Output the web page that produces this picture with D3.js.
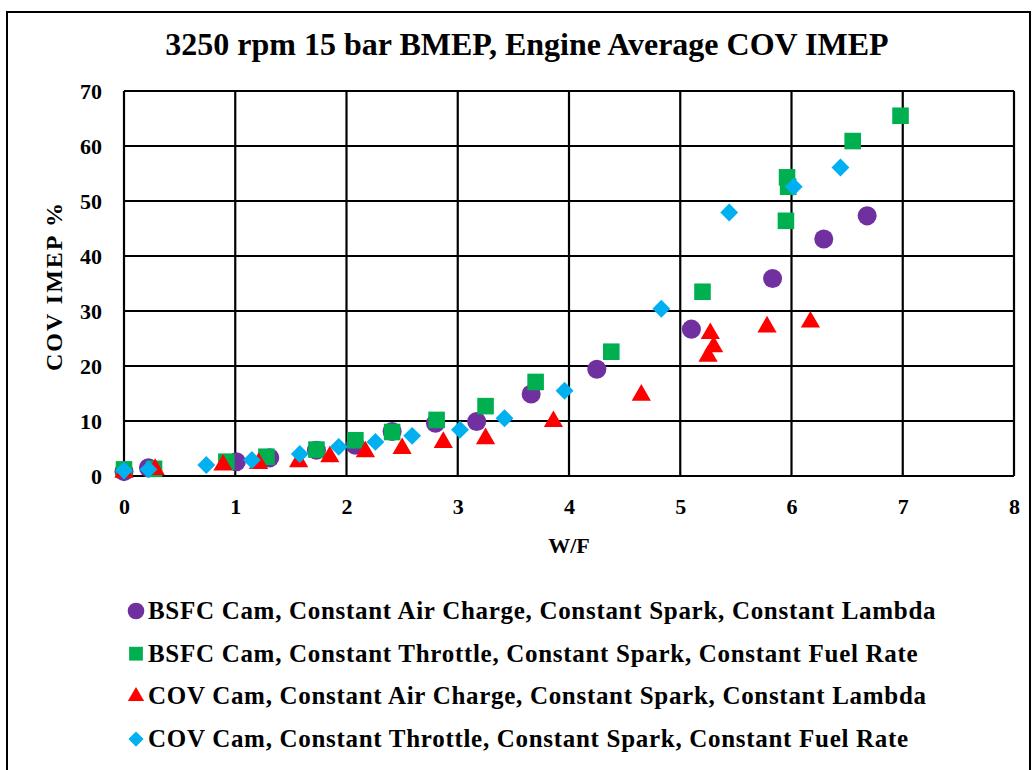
<!DOCTYPE html>
<html>
<head>
<meta charset="utf-8">
<script src="https://cdn.jsdelivr.net/npm/d3@7"></script>
<style>
  body { margin: 0; background: #fff; }
  svg text { font-family: "Liberation Serif", "Times New Roman", serif; font-weight: bold; fill: #000; }
</style>
</head>
<body>
<div id="chart"></div>
<script>
// W/F vs COV IMEP %
var bsfcAirX = [0, 0.22, 1.01, 1.31, 1.73, 2.08, 2.41, 2.80, 3.17, 3.66, 4.25, 5.10, 5.83, 6.29, 6.68],
    bsfcAirY = [0.8, 1.5, 2.6, 3.3, 4.7, 5.6, 8.1, 9.6, 9.9, 14.9, 19.4, 26.7, 35.9, 43.1, 47.3];

var bsfcThrX = [0, 0.27, 0.92, 1.28, 1.73, 2.08, 2.41, 2.81, 3.25, 3.70, 4.38, 5.20, 5.95, 5.96, 5.97, 6.55, 6.98],
    bsfcThrY = [1.2, 1.3, 2.6, 3.5, 4.8, 6.5, 8.0, 10.2, 12.7, 17.1, 22.6, 33.5, 46.4, 54.3, 52.6, 60.9, 65.5];

var covAirX = [0, 0.28, 0.89, 1.21, 1.57, 1.85, 2.17, 2.50, 2.87, 3.25, 3.86, 4.65, 5.27, 5.30, 5.25, 5.78, 6.17],
    covAirY = [0.7, 1.2, 2.0, 2.3, 2.6, 3.5, 4.4, 5.0, 6.1, 6.8, 9.9, 14.7, 25.9, 23.5, 21.8, 27.1, 28.0];

var covThrX = [0, 0.22, 0.74, 1.15, 1.58, 1.93, 2.26, 2.59, 3.02, 3.42, 3.96, 4.83, 5.44, 6.02, 6.44],
    covThrY = [1.0, 1.2, 2.0, 2.9, 4.0, 5.3, 6.2, 7.3, 8.4, 10.5, 15.5, 30.4, 47.9, 52.6, 56.1];

var seriesNames = [
  'BSFC Cam, Constant Air Charge, Constant Spark, Constant Lambda',
  'BSFC Cam, Constant Throttle, Constant Spark, Constant Fuel Rate',
  'COV Cam, Constant Air Charge, Constant Spark, Constant Lambda',
  'COV Cam, Constant Throttle, Constant Spark, Constant Fuel Rate'
];

var xTicks = [0, 1, 2, 3, 4, 5, 6, 7, 8],
    yTicks = [0, 10, 20, 30, 40, 50, 60, 70];

var width  = 1034,
    height = 770,
    plot   = { left: 124, right: 1014, top: 91, bottom: 476 };

var series = [
  { name: seriesNames[0], xs: bsfcAirX, ys: bsfcAirY, color: '#7030A0', symbol: d3.symbolCircle,   size: 285, legSize: 218, rot: 0 },
  { name: seriesNames[1], xs: bsfcThrX, ys: bsfcThrY, color: '#00B050', symbol: d3.symbolSquare,   size: 275, legSize: 190, rot: 0 },
  { name: seriesNames[2], xs: covAirX,  ys: covAirY,  color: '#FF0000', symbol: d3.symbolTriangle, size: 160, legSize: 115, rot: 0 },
  { name: seriesNames[3], xs: covThrX,  ys: covThrY,  color: '#00B0F0', symbol: d3.symbolSquare,   size: 160, legSize: 115, rot: 45 }
];

var svg = d3.select('#chart').append('svg')
      .attr('width', width)
      .attr('height', height);

// outer frame
svg.append('rect')
    .attr('x', 7).attr('y', 12)
    .attr('width', 1023).attr('height', 790)
    .attr('fill', 'none')
    .attr('stroke', '#000')
    .attr('stroke-width', 2);

var x = d3.scaleLinear().domain([0, 8]).range([plot.left, plot.right]),
    y = d3.scaleLinear().domain([0, 70]).range([plot.bottom, plot.top]);

// grid
var grid = svg.append('g').attr('class', 'grid');

grid.selectAll('.vline')
    .data(xTicks)
    .enter().append('line')
    .attr('x1', function(d) { return x(d); })
    .attr('x2', function(d) { return x(d); })
    .attr('y1', plot.top)
    .attr('y2', plot.bottom)
    .attr('stroke', '#000')
    .attr('stroke-width', 2.2);

grid.selectAll('.hline')
    .data(yTicks)
    .enter().append('line')
    .attr('x1', plot.left)
    .attr('x2', plot.right)
    .attr('y1', function(d) { return y(d); })
    .attr('y2', function(d) { return y(d); })
    .attr('stroke', '#000')
    .attr('stroke-width', 2.2);

// axes (labels only, lines come from grid)
var xAxis = svg.append('g')
    .attr('transform', 'translate(0,' + plot.bottom + ')')
    .call(d3.axisBottom(x).tickValues(xTicks).tickSize(0).tickPadding(22));

var yAxis = svg.append('g')
    .attr('transform', 'translate(' + plot.left + ',0)')
    .call(d3.axisLeft(y).tickValues(yTicks).tickSize(0).tickPadding(22));

[xAxis, yAxis].forEach(function(a) {
  a.select('.domain').remove();
  a.selectAll('text')
      .style('font-family', '"Liberation Serif", serif')
      .style('font-weight', 'bold')
      .style('font-size', '22px')
      .attr('fill', '#000');
});

// points
series.forEach(function(s) {
  var pts = s.xs.map(function(v, i) { return [v, s.ys[i]]; });
  svg.append('g').selectAll('path')
      .data(pts)
      .enter().append('path')
      .attr('d', d3.symbol().type(s.symbol).size(s.size))
      .attr('transform', function(d) {
        return 'translate(' + x(d[0]) + ',' + y(d[1]) + ') rotate(' + s.rot + ')';
      })
      .attr('fill', s.color);
});

// titles
svg.append('text')
    .attr('x', 527).attr('y', 55)
    .attr('text-anchor', 'middle')
    .style('font-size', '32px')
    .text('3250 rpm 15 bar BMEP, Engine Average COV IMEP');

svg.append('text')
    .attr('x', x(4)).attr('y', 553)
    .attr('text-anchor', 'middle')
    .style('font-size', '22px')
    .text('W/F');

svg.append('text')
    .attr('transform', 'translate(62,' + 286 + ') rotate(-90)')
    .attr('text-anchor', 'middle')
    .style('font-size', '24px')
    .style('letter-spacing', '2px')
    .text('COV IMEP %');

// legend
var legend = svg.append('g').selectAll('g')
    .data(series)
    .enter().append('g')
    .attr('transform', function(d, i) { return 'translate(136,' + (611 + i * 42.7) + ')'; });

legend.append('path')
    .attr('d', function(d) { return d3.symbol().type(d.symbol).size(d.legSize)(); })
    .attr('transform', function(d) { return 'rotate(' + d.rot + ')'; })
    .attr('fill', function(d) { return d.color; });

legend.append('text')
    .attr('x', 12)
    .attr('y', 8)
    .style('font-size', '25px')
    .style('letter-spacing', '0.7px')
    .text(function(d) { return d.name; });
</script>
</body>
</html>
